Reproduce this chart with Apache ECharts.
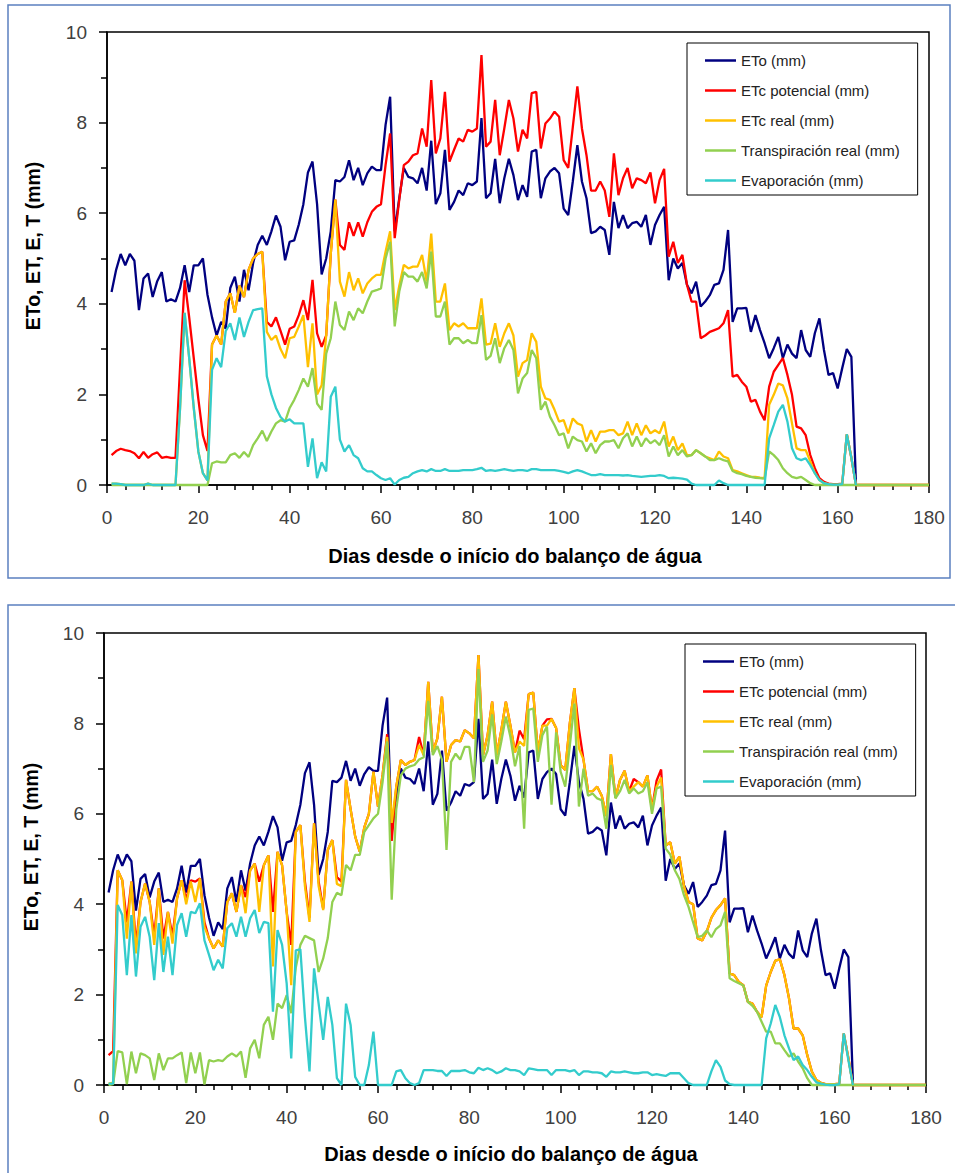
<!DOCTYPE html>
<html>
<head>
<meta charset="utf-8">
<script src="https://cdn.jsdelivr.net/npm/echarts@6/dist/echarts.min.js"></script>
<style>
  html, body { margin: 0; padding: 0; background: #fff; }
  #chart { width: 955px; height: 1173px; }
</style>
</head>
<body>
<div id="chart"></div>
<script>
// dias 1..180
const xTicks = [0, 20, 40, 60, 80, 100, 120, 140, 160, 180]
const names = ['ETo (mm)', 'ETc potencial (mm)', 'ETc real (mm)', 'Transpiración real (mm)', 'Evaporación (mm)']
const colors = ['#000080', '#FF0000', '#FFC000', '#92D050', '#33CCCC']

// ETo (igual nos dois gráficos), dias 1..164
const eto = [
  4.26, 4.75, 5.1, 4.85, 5.1, 4.95, 3.86, 4.56, 4.67, 4.15,
  4.5, 4.7, 4.05, 4.1, 4.05, 4.35, 4.85, 4.26, 4.85, 4.85,
  5.0, 4.2, 3.7, 3.3, 3.6, 3.45, 4.35, 4.6, 4.05, 4.75,
  4.3, 4.9, 5.3, 5.5, 5.3, 5.6, 5.95, 5.7, 4.96, 5.37,
  5.4, 5.75, 6.2, 6.9, 7.14, 6.2, 4.65, 5.0, 5.6, 6.73,
  6.7, 6.8, 7.17, 6.73, 7.0, 6.62, 6.88, 7.03, 6.95, 6.95,
  7.95, 8.57, 5.6, 6.33, 7.0, 6.8, 6.77, 6.66, 7.0, 6.5,
  7.6, 6.2, 6.44, 7.4, 6.07, 6.25, 6.5, 6.4, 6.66, 6.62,
  6.7, 8.1, 6.33, 6.44, 7.2, 6.22, 6.77, 7.2, 6.84, 6.29,
  6.62, 6.36, 7.36, 7.4, 6.33, 6.77, 6.92, 7.0, 6.88, 6.1,
  5.96, 6.7, 7.5, 6.7, 6.33, 5.56, 5.6, 5.7, 5.63, 5.08,
  6.25, 5.67, 5.96, 5.67, 5.78, 5.81, 5.7, 5.96, 5.3, 5.74,
  5.96, 6.14, 4.52, 5.0, 4.78, 4.9, 4.42, 4.23, 4.49, 3.94,
  4.05, 4.19, 4.42, 4.45, 4.75, 5.63, 3.6, 3.9, 3.9, 3.91,
  3.38, 3.75, 3.42, 3.13, 2.8, 3.02, 3.27, 2.8, 3.1, 2.9,
  2.8, 3.42, 2.98, 2.83, 3.35, 3.68, 2.98, 2.43, 2.47, 2.13,
  2.58, 3.0, 2.83, 0.05,
]

// gráfico 1
const etcPot1 = [
  0.66, 0.75, 0.8, 0.77, 0.75, 0.7, 0.59, 0.73, 0.6, 0.68,
  0.72, 0.6, 0.62, 0.6, 0.6, 2.6, 4.52, 3.7, 2.8, 1.9,
  1.1, 0.75, 3.1, 3.3, 3.1, 4.05, 4.23, 3.8, 4.4, 4.15,
  4.75, 5.0, 5.1, 5.15, 3.6, 3.5, 3.7, 3.4, 3.1, 3.45,
  3.5, 3.75, 4.08, 3.64, 4.53, 3.35, 3.05, 3.3, 5.1, 6.3,
  5.3, 5.19, 5.8, 5.5, 5.8, 5.48, 5.8, 6.03, 6.14, 6.2,
  7.06, 7.76, 5.45, 6.3, 7.06, 7.14, 7.28, 7.32, 7.87, 7.47,
  8.94, 7.32, 7.65, 8.68, 7.14, 7.4, 7.65, 7.58, 7.84, 7.8,
  7.87, 9.49, 7.47, 7.58, 8.5, 7.28, 7.87, 8.5, 8.09, 7.36,
  7.84, 7.65, 8.65, 8.68, 7.43, 7.98, 8.09, 8.24, 8.13, 7.17,
  7.0, 7.9, 8.8, 7.87, 7.28, 6.5, 6.5, 6.7, 6.5, 5.92,
  7.32, 6.4, 6.77, 7.0, 6.55, 6.77, 6.73, 6.66, 6.9, 6.22,
  6.73, 6.98, 5.04, 5.37, 4.9, 5.08, 4.42, 4.05, 4.05, 3.24,
  3.3, 3.38, 3.42, 3.46, 3.57, 3.86, 2.39, 2.43, 2.28, 2.17,
  1.84, 1.88, 1.62, 1.43, 2.17, 2.5, 2.65, 2.8, 2.43, 1.99,
  1.29, 1.25, 1.1, 0.66, 0.37, 0.15, 0.07, 0.03, 0.02, 0.02,
  0.03, 1.12, 0.6, 0, 0, 0, 0, 0, 0, 0,
  0, 0, 0, 0, 0, 0, 0, 0, 0, 0,
]
const etcReal1 = [
  0.03, 0.03, 0.02, 0, 0, 0, 0, 0, 0.03, 0,
  0, 0, 0, 0, 0, 1.7, 3.8, 2.8, 1.7, 0.74,
  0.26, 0.1, 3.1, 3.3, 3.1, 4.05, 4.23, 3.8, 4.4, 4.15,
  4.75, 5.0, 5.1, 5.15, 3.38, 3.2, 3.3, 3.0, 2.8, 3.24,
  3.27, 3.5, 3.75, 2.6, 3.57, 2.0, 2.2, 3.3, 5.1, 6.3,
  4.49, 4.16, 4.7, 4.3, 4.56, 4.23, 4.45, 4.56, 4.64, 4.64,
  5.15, 5.6, 3.86, 4.4, 4.86, 4.78, 4.82, 4.82, 5.08, 4.49,
  5.55, 4.05, 4.05, 4.45, 3.42, 3.57, 3.5, 3.57, 3.46, 3.46,
  3.46, 4.12, 3.1, 3.12, 3.57, 3.05, 3.35, 3.57, 3.3, 2.39,
  2.69, 2.76, 3.35, 3.16, 2.17, 1.91, 1.88, 1.66, 1.4, 1.43,
  1.14, 1.47, 1.36, 1.32, 0.96, 1.21, 0.96, 1.18, 1.18, 1.21,
  1.21, 1.1, 1.14, 1.4, 1.1, 1.36, 1.1, 1.32, 1.14, 1.21,
  1.14, 1.4, 0.85, 1.07, 0.77, 0.92, 0.66, 0.66, 0.77, 0.7,
  0.63, 0.59, 0.55, 0.74, 0.63, 0.59, 0.33, 0.3, 0.26, 0.22,
  0.18, 0.18, 0.16, 0.15, 1.77, 1.99, 2.24, 2.2, 1.91, 1.36,
  0.81, 0.77, 0.77, 0.52, 0.26, 0.11, 0.04, 0.02, 0.01, 0.01,
  0.02, 1.12, 0.6, 0, 0, 0, 0, 0, 0, 0,
  0, 0, 0, 0, 0, 0, 0, 0, 0, 0,
]
const transp1 = [
  0, 0, 0, 0, 0, 0, 0, 0, 0, 0,
  0, 0, 0, 0, 0, 0, 0, 0, 0, 0,
  0, 0, 0.48, 0.52, 0.5, 0.5, 0.66, 0.7, 0.6, 0.73,
  0.62, 0.88, 1.03, 1.2, 0.97, 1.18, 1.36, 1.43, 1.4, 1.7,
  1.88, 2.1, 2.35, 2.17, 2.58, 1.8, 1.66, 2.9, 3.24, 4.05,
  3.53, 3.42, 3.83, 3.64, 3.9, 3.79, 4.05, 4.27, 4.3, 4.34,
  5.0, 5.37, 3.5, 4.27, 4.7, 4.6, 4.6, 4.49, 4.7, 4.34,
  5.15, 3.72, 3.72, 4.05, 3.1, 3.24, 3.24, 3.13, 3.2, 3.13,
  3.13, 3.75, 2.76, 2.85, 3.24, 2.69, 3.02, 3.2, 2.98, 2.02,
  2.35, 2.47, 2.98, 2.8, 1.66, 1.84, 1.51, 1.32, 1.1, 1.14,
  0.81, 1.07, 0.99, 0.96, 0.74, 0.92, 0.7, 0.88, 0.96, 0.96,
  0.99, 0.81, 1.03, 1.14, 0.85, 1.07, 0.85, 1.03, 0.92, 0.99,
  0.88, 1.1, 0.63, 0.85, 0.66, 0.77, 0.63, 0.66, 0.77, 0.7,
  0.63, 0.55, 0.55, 0.59, 0.55, 0.52, 0.31, 0.26, 0.24, 0.2,
  0.18, 0.16, 0.15, 0.14, 0.74, 0.66, 0.55, 0.37, 0.26, 0.18,
  0.15, 0.18, 0.11, 0.04, 0, 0, 0, 0, 0, 0,
  0, 0, 0, 0, 0, 0, 0, 0, 0, 0,
  0, 0, 0, 0, 0, 0, 0, 0, 0, 0,
]
const evap1 = [
  0.03, 0.03, 0.02, 0, 0, 0, 0, 0, 0.03, 0,
  0, 0, 0, 0, 0, 1.7, 3.8, 2.8, 1.7, 0.74,
  0.26, 0.1, 2.54, 2.8, 2.6, 3.4, 3.57, 3.2, 3.7, 3.27,
  3.6, 3.86, 3.88, 3.9, 2.4, 2.0, 1.7, 1.5, 1.4, 1.45,
  1.36, 1.36, 1.36, 0.4, 1.03, 0.15, 0.5, 0.3, 1.95, 2.17,
  1.0, 0.74, 0.88, 0.66, 0.59, 0.37, 0.3, 0.3, 0.22, 0.15,
  0.11, 0.15, 0.01, 0.11, 0.16, 0.18, 0.26, 0.3, 0.33, 0.3,
  0.35, 0.31, 0.31, 0.35, 0.31, 0.31, 0.31, 0.33, 0.33, 0.33,
  0.35, 0.38, 0.31, 0.33, 0.31, 0.33, 0.35, 0.33, 0.31, 0.33,
  0.33, 0.31, 0.35, 0.35, 0.33, 0.33, 0.33, 0.33, 0.31, 0.29,
  0.26, 0.3, 0.33, 0.3, 0.26, 0.22, 0.22, 0.24, 0.22, 0.22,
  0.22, 0.22, 0.21, 0.22, 0.2, 0.19, 0.18, 0.19, 0.2, 0.2,
  0.22, 0.2, 0.15, 0.16, 0.15, 0.14, 0.12, 0.03, 0, 0,
  0, 0, 0, 0.1, 0.04, 0, 0, 0, 0, 0,
  0, 0, 0, 0, 1.03, 1.32, 1.62, 1.77, 1.4, 0.81,
  0.59, 0.55, 0.59, 0.44, 0.26, 0.11, 0.04, 0.02, 0.01, 0.01,
  0.02, 1.12, 0.6, 0,
]

// gráfico 2
const etcPot2 = [
  0.66, 0.75, 4.75, 4.53, 3.6, 4.5, 3.1, 4.05, 4.46, 4.05,
  3.3, 4.35, 3.24, 3.83, 3.3, 4.13, 4.53, 4.1, 4.53, 4.5,
  4.57, 3.6, 3.24, 3.02, 3.2, 3.06, 4.05, 4.24, 3.83, 4.42,
  4.16, 4.75, 4.9, 4.5, 4.86, 5.08, 3.83, 5.16, 4.86, 3.83,
  3.1, 5.6, 5.75, 4.5, 3.7, 5.79, 4.5, 3.9, 5.2, 5.42,
  4.6, 4.5, 6.75, 6.1, 5.5, 5.16, 5.7, 6.0, 6.93, 6.16,
  6.86, 7.76, 5.4, 6.6, 7.19, 7.08, 7.15, 7.19, 7.7, 7.3,
  8.92, 7.37, 7.67, 8.59, 7.15, 7.52, 7.63, 7.6, 7.85, 7.78,
  7.67, 9.51, 7.3, 7.74, 8.48, 7.3, 7.85, 8.48, 7.95, 7.36,
  7.84, 7.65, 8.65, 8.68, 7.36, 7.95, 8.09, 8.1, 7.9, 7.08,
  6.97, 8.0, 8.78, 7.87, 7.2, 6.5, 6.5, 6.6, 6.4, 5.95,
  7.32, 6.35, 6.75, 6.95, 6.5, 6.77, 6.7, 6.6, 6.85, 6.1,
  6.73, 6.98, 5.3, 5.37, 4.9, 5.05, 4.4, 4.05, 4.0, 3.24,
  3.2, 3.4, 3.7, 3.87, 3.98, 4.13, 2.47, 2.43, 2.28, 2.21,
  1.84, 1.8, 1.62, 1.5, 2.2, 2.5, 2.75, 2.78, 2.43, 1.92,
  1.25, 1.25, 1.1, 0.66, 0.3, 0.11, 0.05, 0.02, 0.02, 0.02,
  0.03, 1.14, 0.6, 0, 0, 0, 0, 0, 0, 0,
  0, 0, 0, 0, 0, 0, 0, 0, 0, 0,
]
const etcReal2 = [
  0.03, 0.05, 4.75, 4.53, 3.24, 4.5, 2.91, 4.05, 4.46, 4.05,
  3.1, 4.35, 2.88, 3.83, 3.13, 4.13, 4.53, 4.0, 4.5, 4.05,
  4.57, 3.5, 3.24, 3.02, 3.2, 3.06, 4.05, 4.24, 3.83, 4.42,
  3.8, 4.75, 4.9, 3.83, 4.86, 5.08, 2.62, 5.16, 4.86, 3.83,
  2.21, 5.6, 5.75, 4.4, 3.61, 5.79, 4.4, 3.87, 5.2, 5.42,
  4.45, 4.4, 6.75, 6.1, 5.5, 5.16, 5.7, 6.0, 6.93, 6.16,
  6.86, 7.7, 5.8, 6.6, 7.19, 7.08, 7.15, 7.19, 7.52, 7.3,
  8.92, 7.37, 7.67, 8.59, 7.15, 7.52, 7.63, 7.6, 7.85, 7.78,
  7.67, 9.51, 7.3, 7.74, 8.48, 7.3, 7.85, 8.48, 7.95, 7.36,
  7.6, 7.5, 8.65, 8.68, 7.36, 7.95, 7.95, 8.1, 7.9, 7.08,
  6.97, 8.0, 8.78, 7.45, 7.2, 6.5, 6.5, 6.6, 6.4, 5.95,
  7.32, 6.35, 6.75, 6.95, 6.5, 6.6, 6.7, 6.6, 6.85, 6.1,
  6.6, 6.8, 5.3, 5.37, 4.9, 5.05, 4.4, 4.05, 4.0, 3.24,
  3.2, 3.4, 3.7, 3.87, 3.98, 4.13, 2.47, 2.43, 2.28, 2.21,
  1.84, 1.8, 1.62, 1.5, 2.2, 2.5, 2.75, 2.78, 2.43, 1.92,
  1.25, 1.25, 1.1, 0.66, 0.3, 0.11, 0.05, 0.02, 0.02, 0.02,
  0.03, 1.14, 0.6, 0, 0, 0, 0, 0, 0, 0,
  0, 0, 0, 0, 0, 0, 0, 0, 0, 0,
]
const transp2 = [
  0, 0.02, 0.75, 0.72, 0.02, 0.74, 0.26, 0.7, 0.66, 0.59,
  0.11, 0.7, 0.33, 0.59, 0.59, 0.66, 0.72, 0.04, 0.72, 0.26,
  0.72, 0.01, 0.55, 0.52, 0.55, 0.53, 0.63, 0.7, 0.63, 0.74,
  0.16, 0.81, 1.0, 0.59, 1.33, 1.51, 1.0, 1.8, 1.7, 1.99,
  1.59, 2.6, 3.1, 3.3, 3.25, 3.2, 2.5, 2.8, 3.25, 4.05,
  4.25, 4.2, 4.87, 4.75, 5.09, 5.09, 5.6, 5.75, 5.9, 6.0,
  6.7, 7.6, 4.1, 6.1, 6.85, 7.0, 7.05, 7.08, 7.2, 7.25,
  8.5, 7.3, 7.5, 7.2, 5.2, 7.15, 7.33, 7.2, 7.48, 7.48,
  6.7, 9.2, 7.15, 7.4, 8.2, 7.1, 7.6, 8.15, 7.7, 7.05,
  7.5, 5.67, 8.3, 8.33, 7.15, 7.74, 7.93, 6.2, 7.8, 6.93,
  6.6, 7.5, 8.44, 6.16, 7.0, 6.4, 6.45, 6.34, 6.3, 5.67,
  7.08, 6.34, 6.5, 6.75, 6.45, 6.56, 6.45, 6.5, 6.7, 6.0,
  6.56, 6.6, 5.23, 5.1, 4.75, 4.56, 4.2, 3.94, 3.6, 3.27,
  3.3, 3.42, 3.27, 3.45, 3.53, 3.83, 2.36, 2.3, 2.25, 2.2,
  1.84, 1.75, 1.62, 1.4, 1.18, 1.18, 0.92, 0.92, 0.77, 0.63,
  0.7, 0.52, 0.37, 0.15, 0, 0, 0, 0, 0, 0,
  0, 0, 0, 0, 0, 0, 0, 0, 0, 0,
  0, 0, 0, 0, 0, 0, 0, 0, 0, 0,
]
const evap2 = [
  0.03, 0.03, 3.98, 3.76, 2.43, 3.76, 2.4, 3.5, 3.72, 3.28,
  2.32, 3.58, 2.5, 3.28, 2.43, 3.54, 3.8, 3.28, 3.83, 3.8,
  4.02, 3.2, 2.88, 2.54, 2.77, 2.58, 3.47, 3.58, 3.28, 3.72,
  3.28, 3.69, 3.87, 3.36, 3.61, 3.58, 1.62, 3.43, 3.1, 2.25,
  0.59, 2.98, 3.0, 1.5, 0.3, 2.58, 1.8, 1.0, 1.95, 1.33,
  0.15, 0, 1.8, 1.33, 0.18, 0, 0, 0.44, 1.18, 0,
  0, 0, 0, 0.3, 0.33, 0.15, 0.04, 0, 0.04, 0.33,
  0.33, 0.33, 0.31, 0.31, 0.2, 0.31, 0.31, 0.31, 0.33, 0.28,
  0.26, 0.38, 0.33, 0.37, 0.33, 0.26, 0.3, 0.37, 0.33, 0.33,
  0.3, 0.22, 0.37, 0.35, 0.33, 0.33, 0.33, 0.22, 0.33, 0.33,
  0.33, 0.3, 0.33, 0.22, 0.3, 0.3, 0.28, 0.28, 0.26, 0.18,
  0.3, 0.28, 0.28, 0.3, 0.28, 0.26, 0.26, 0.28, 0.28, 0.22,
  0.24, 0.22, 0.2, 0.26, 0.26, 0.26, 0.15, 0.04, 0, 0,
  0, 0, 0.3, 0.55, 0.4, 0.1, 0.02, 0, 0, 0,
  0, 0, 0, 0, 1.03, 1.36, 1.77, 1.5, 1.1, 0.81,
  0.55, 0.63, 0.44, 0.33, 0.18, 0.06, 0.03, 0.01, 0, 0,
  0.02, 1.14, 0.55, 0,
]

const FONT = '"Liberation Sans", Arial, sans-serif'
var myChart = echarts.init(document.getElementById('chart'), null, { renderer: 'svg' })

function pairs(arr) {
  return arr.map((v, i) => [i + 1, v])
}

function makeSeries(idx, list) {
  return list.map((arr, k) => ({
    name: names[k],
    type: 'line',
    xAxisIndex: idx,
    yAxisIndex: idx,
    data: pairs(arr),
    symbol: 'none',
    clip: false,
    lineStyle: { color: colors[k], width: 2.3 },
    itemStyle: { color: colors[k] },
    z: 3 + k,
  }))
}

function xAxisOf(idx) {
  return {
    type: 'value',
    gridIndex: idx,
    min: xTicks[0],
    max: xTicks[xTicks.length - 1],
    interval: 20,
    axisLine: { show: true, onZero: false, lineStyle: { color: '#000', width: 1.5 } },
    axisTick: { show: true, length: 8, lineStyle: { color: '#000', width: 1.5 } },
    minorTick: { show: true, splitNumber: 5, length: 5, lineStyle: { color: '#000', width: 1.5 } },
    splitLine: { show: false },
    axisLabel: { color: '#404040', fontSize: 19, fontFamily: FONT, margin: 23 },
  }
}

function yAxisOf(idx) {
  return {
    type: 'value',
    gridIndex: idx,
    min: 0,
    max: 10,
    interval: 2,
    axisLine: { show: true, lineStyle: { color: '#000', width: 1.5 } },
    axisTick: { show: true, length: 8, lineStyle: { color: '#000', width: 1.5 } },
    minorTick: { show: true, splitNumber: 2, length: 6, lineStyle: { color: '#000', width: 1.5 } },
    splitLine: { show: false },
    axisLabel: { color: '#404040', fontSize: 19, fontFamily: FONT, margin: 20 },
  }
}

function legendOf(left, top) {
  return {
    data: names,
    orient: 'vertical',
    left: left,
    top: top,
    icon: 'rect',
    itemWidth: 31,
    itemHeight: 2.5,
    itemGap: 15,
    padding: [10, 18, 7, 18],
    borderColor: '#000',
    borderWidth: 1,
    backgroundColor: '#fff',
    textStyle: { color: '#222', fontSize: 15, lineHeight: 15, fontFamily: FONT },
  }
}

var option = {
  animation: false,
  backgroundColor: '#fff',
  grid: [
    { left: 107, top: 32, width: 822, height: 453, show: true, borderColor: '#000', borderWidth: 1.5 },
    { left: 104, top: 633, width: 822, height: 452, show: true, borderColor: '#000', borderWidth: 1.5 },
  ],
  xAxis: [xAxisOf(0), xAxisOf(1)],
  yAxis: [yAxisOf(0), yAxisOf(1)],
  legend: [legendOf(687, 43), legendOf(685, 644)],
  graphic: [
    { type: 'rect', shape: { x: 8, y: 5, width: 942, height: 573 }, style: { fill: 'none', stroke: '#5B80C0', lineWidth: 1.5 }, z: -1 },
    { type: 'rect', shape: { x: 8, y: 605, width: 970, height: 600 }, style: { fill: 'none', stroke: '#5B80C0', lineWidth: 1.5 }, z: -1 },
    { type: 'text', x: 33, y: 246, rotation: Math.PI / 2, style: { text: 'ETo, ET, E, T (mm)', fontSize: 19.5, fontWeight: 'bold', fontFamily: FONT, fill: '#000', align: 'center', verticalAlign: 'middle' } },
    { type: 'text', x: 31, y: 847, rotation: Math.PI / 2, style: { text: 'ETo, ET, E, T (mm)', fontSize: 19.5, fontWeight: 'bold', fontFamily: FONT, fill: '#000', align: 'center', verticalAlign: 'middle' } },
    { type: 'text', x: 515, y: 556, style: { text: 'Dias desde o início do balanço de água', fontSize: 20, fontWeight: 'bold', fontFamily: FONT, fill: '#000', align: 'center', verticalAlign: 'middle' } },
    { type: 'text', x: 511, y: 1154, style: { text: 'Dias desde o início do balanço de água', fontSize: 20, fontWeight: 'bold', fontFamily: FONT, fill: '#000', align: 'center', verticalAlign: 'middle' } },
  ],
  series: [
    ...makeSeries(0, [eto, etcPot1, etcReal1, transp1, evap1]),
    ...makeSeries(1, [eto, etcPot2, etcReal2, transp2, evap2]),
  ],
}

option && myChart.setOption(option)
</script>
</body>
</html>
